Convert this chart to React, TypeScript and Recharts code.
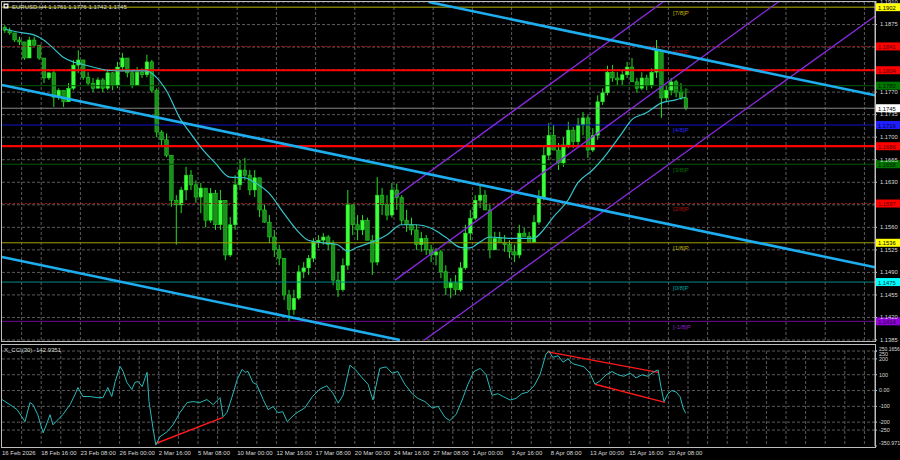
import React from 'react';
import { ComposedChart, Bar, Line, XAxis, YAxis, CartesianGrid, ReferenceLine } from 'recharts';

const FONT = '"Liberation Sans", Arial, sans-serif';
const TXT = '#d9d9d9';
const GRID = '#5a5a5a';

// x runs in candle units: one candle = two H4 bars
const X_MAX = 178.16;
const P_MIN = 1.1385;
const P_MAX = 1.191;

const opens = [
  1.1871, 1.1866, 1.1862, 1.1851, 1.1848, 1.1823, 1.1851, 1.1843, 1.1823, 1.1792,
  1.18, 1.1762, 1.1773, 1.1755, 1.1776, 1.1812, 1.182, 1.1793, 1.1784, 1.1776,
  1.1789, 1.1776, 1.18, 1.1781, 1.1809, 1.1823, 1.18, 1.1781, 1.1801, 1.1797,
  1.1817, 1.1773, 1.1708, 1.1696, 1.1672, 1.1602, 1.1595, 1.1618, 1.1641, 1.1626,
  1.1607, 1.1621, 1.1571, 1.1613, 1.1564, 1.1602, 1.1517, 1.1564, 1.1626, 1.1649,
  1.1641, 1.1618, 1.1637, 1.1587, 1.1568, 1.1545, 1.1525, 1.1512, 1.1455, 1.1432,
  1.145, 1.1491, 1.1497, 1.1512, 1.1537, 1.154, 1.1545, 1.1533, 1.1478, 1.1463,
  1.1501, 1.1595, 1.1564, 1.1556, 1.1571, 1.154, 1.1506, 1.161, 1.1595, 1.1579,
  1.1618, 1.1606, 1.1571, 1.1564, 1.1556, 1.1533, 1.1543, 1.1525, 1.1517, 1.1522,
  1.1491, 1.1466, 1.1474, 1.1463, 1.1497, 1.1551, 1.1574, 1.1602, 1.161, 1.1587,
  1.1525, 1.1543, 1.1536, 1.1533, 1.1522, 1.1517, 1.1551, 1.1546, 1.1537, 1.1568,
  1.1606, 1.1672, 1.1703, 1.168, 1.166, 1.1688, 1.1711, 1.1693, 1.1719, 1.173,
  1.168, 1.1703, 1.1755, 1.1769, 1.1801, 1.1792, 1.1789, 1.1797, 1.1809, 1.1786,
  1.1776, 1.1792, 1.1781, 1.1801, 1.1835, 1.1761, 1.1773, 1.1786, 1.177, 1.1761,
];
const highs = [
  1.1874, 1.187, 1.1862, 1.1856, 1.1848, 1.1856, 1.1856, 1.1843, 1.1823, 1.1801,
  1.1804, 1.1776, 1.1773, 1.1784, 1.182, 1.1835, 1.182, 1.1801, 1.1792, 1.1793,
  1.1792, 1.1804, 1.1801, 1.1817, 1.1831, 1.1823, 1.1804, 1.1809, 1.1807, 1.1828,
  1.182, 1.1776, 1.1711, 1.1706, 1.1672, 1.161, 1.1623, 1.1654, 1.1649, 1.1633,
  1.1629, 1.1621, 1.1621, 1.1618, 1.1618, 1.1602, 1.1576, 1.1641, 1.1665, 1.1668,
  1.1649, 1.1649, 1.1637, 1.1595, 1.1579, 1.1556, 1.1533, 1.1512, 1.1463, 1.1463,
  1.1501, 1.1506, 1.1517, 1.1543, 1.1548, 1.1551, 1.1548, 1.154, 1.1491, 1.1512,
  1.1618, 1.1595, 1.1579, 1.1579, 1.1575, 1.1548, 1.1638, 1.1621, 1.161, 1.1629,
  1.1628, 1.161, 1.1587, 1.1575, 1.1564, 1.1553, 1.1548, 1.1533, 1.1528, 1.1525,
  1.1501, 1.1481, 1.1486, 1.1506, 1.1564, 1.1587, 1.161, 1.1626, 1.1618, 1.1595,
  1.1553, 1.1553, 1.1548, 1.154, 1.1533, 1.1564, 1.1559, 1.1553, 1.1579, 1.1618,
  1.1688, 1.1722, 1.1719, 1.1691, 1.17, 1.1724, 1.1716, 1.173, 1.1739, 1.1734,
  1.1714, 1.1765, 1.1776, 1.1811, 1.1812, 1.1801, 1.1804, 1.1817, 1.1823, 1.1792,
  1.1801, 1.1797, 1.1807, 1.1851, 1.1835, 1.1781, 1.1792, 1.1789, 1.1784, 1.1776,
];
const lows = [
  1.1862, 1.1859, 1.1848, 1.1843, 1.182, 1.1823, 1.184, 1.182, 1.1784, 1.1789,
  1.1747, 1.1758, 1.1747, 1.1755, 1.1773, 1.18, 1.1789, 1.1781, 1.177, 1.1776,
  1.177, 1.1773, 1.1773, 1.1776, 1.1804, 1.1793, 1.1776, 1.1781, 1.1792, 1.1793,
  1.1769, 1.17, 1.1685, 1.1669, 1.1592, 1.1533, 1.1582, 1.1602, 1.1618, 1.1598,
  1.1582, 1.156, 1.1567, 1.1556, 1.1556, 1.1509, 1.1514, 1.1556, 1.1618, 1.1633,
  1.161, 1.1607, 1.1576, 1.1567, 1.1536, 1.1514, 1.1501, 1.1447, 1.1413, 1.1424,
  1.1447, 1.1481, 1.1486, 1.1506, 1.1528, 1.1533, 1.1525, 1.147, 1.1452, 1.146,
  1.1494, 1.1548, 1.154, 1.1548, 1.154, 1.1486, 1.1501, 1.1579, 1.1571, 1.1575,
  1.1587, 1.1564, 1.1553, 1.1548, 1.1525, 1.1522, 1.1517, 1.1506, 1.1501, 1.1481,
  1.1455, 1.145, 1.1455, 1.146, 1.1494, 1.154, 1.1571, 1.159, 1.1587, 1.1512,
  1.1525, 1.1536, 1.1522, 1.1512, 1.1506, 1.1512, 1.1546, 1.1537, 1.1537, 1.1564,
  1.1602, 1.1665, 1.168, 1.1649, 1.1654, 1.1683, 1.1683, 1.1688, 1.1703, 1.1668,
  1.1677, 1.1696, 1.175, 1.1765, 1.1786, 1.1781, 1.1781, 1.1792, 1.1786, 1.1769,
  1.1773, 1.1773, 1.1776, 1.1792, 1.173, 1.1755, 1.1765, 1.1762, 1.1758, 1.1742,
];
const closes = [
  1.1866, 1.1862, 1.1851, 1.1848, 1.1823, 1.1851, 1.1843, 1.1823, 1.1792, 1.18,
  1.1762, 1.1773, 1.1755, 1.1776, 1.1812, 1.182, 1.1793, 1.1784, 1.1776, 1.1789,
  1.1776, 1.18, 1.1781, 1.1809, 1.1823, 1.18, 1.1781, 1.1801, 1.1797, 1.1817,
  1.1773, 1.1708, 1.1696, 1.1672, 1.1602, 1.1595, 1.1618, 1.1641, 1.1626, 1.1607,
  1.1621, 1.1571, 1.1613, 1.1564, 1.1602, 1.1517, 1.1564, 1.1626, 1.1649, 1.1641,
  1.1618, 1.1637, 1.1587, 1.1568, 1.1545, 1.1525, 1.1512, 1.1455, 1.1432, 1.145,
  1.1491, 1.1497, 1.1512, 1.1537, 1.154, 1.1545, 1.1533, 1.1478, 1.1463, 1.1501,
  1.1595, 1.1564, 1.1556, 1.1571, 1.154, 1.1506, 1.161, 1.1595, 1.1579, 1.1618,
  1.1606, 1.1571, 1.1564, 1.1556, 1.1533, 1.1543, 1.1525, 1.1517, 1.1522, 1.1491,
  1.1466, 1.1474, 1.1463, 1.1497, 1.1551, 1.1574, 1.1602, 1.161, 1.1587, 1.1525,
  1.1543, 1.1536, 1.1533, 1.1522, 1.1517, 1.1551, 1.1546, 1.1537, 1.1568, 1.1606,
  1.1672, 1.1703, 1.168, 1.166, 1.1688, 1.1711, 1.1693, 1.1719, 1.173, 1.168,
  1.1703, 1.1755, 1.1769, 1.1801, 1.1792, 1.1789, 1.1797, 1.1809, 1.1786, 1.1776,
  1.1792, 1.1781, 1.1801, 1.1835, 1.1761, 1.1773, 1.1786, 1.177, 1.1761, 1.1745,
];

// moving average, read at some candles only
const maIdx = [
  0, 3, 6, 8, 10, 12, 14, 15, 18, 21, 24, 26, 29, 31, 33, 36, 38, 40, 43, 46,
  49, 51, 54, 57, 60, 62, 65, 68, 70, 72, 75, 78, 81, 84, 87, 90, 93, 95, 97, 99,
  103, 108, 110, 112, 115, 117, 120, 123, 126, 128, 131, 134, 137, 139,
];
const maVal = [
  1.1868, 1.1863, 1.1859, 1.1851, 1.1838, 1.1824, 1.1817, 1.1815, 1.1809, 1.1804,
  1.1803, 1.1803, 1.1803, 1.1793, 1.1773, 1.1727, 1.1706, 1.1685, 1.166, 1.1638,
  1.1637, 1.163, 1.1613, 1.1582, 1.1553, 1.154, 1.1536, 1.1533, 1.1523, 1.1529,
  1.1537, 1.1548, 1.1564, 1.1564, 1.1559, 1.1545, 1.1529, 1.1528, 1.1537, 1.1545,
  1.1543, 1.1543, 1.1556, 1.1576, 1.1602, 1.1629, 1.1649, 1.1675, 1.1706, 1.1727,
  1.1738, 1.1753, 1.1758, 1.1762,
];

const cciPos = [
  0, 1.6, 3.1, 4.7, 5.7, 6.3, 7.3, 8.4, 9.2, 9.8, 10.4, 11.4, 12.4, 13.9, 14.9, 15.5,
  16.5, 18, 19.4, 20.6, 21.6, 22.4, 23.1, 24.1, 24.7, 25.5, 26.5, 27.1, 27.8, 28.6,
  29.6, 30, 30.8, 31.4, 32.2, 33.7, 34.9, 36.3, 37.8, 39, 40.4, 41.8, 43.1, 44.5,
  45.1, 45.9, 46.9, 48, 49, 49.6, 50.2, 51.2, 52, 53.3, 54.3, 55.3, 56.3, 57.3, 58.2,
  59.2, 60.2, 61.8, 63.3, 64.9, 66.3, 67.6, 68.6, 69.6, 71, 72.2, 73.5, 74.7, 75.7,
  77.1, 78.4, 79.6, 80.8, 82.2, 83.7, 84.9, 86.3, 87.8, 89, 90.4, 91.4, 92.7, 93.9,
  95.1, 96.3, 97.6, 98.8, 100, 101.2, 102.4, 103.7, 104.9, 106.1, 107.3, 108.6,
  109.8, 111, 111.6, 112.4, 113.5, 114.5, 115.5, 116.5, 117.6, 118.8, 120, 121, 122,
  123.3, 124.5, 125.7, 126.9, 128.2, 129.4, 130.6, 131.8, 133.1, 133.9, 134.5, 135.1,
  135.9, 136.7, 137.6, 138.4, 139, 139.5,
];
const cciVal = [
  -57, -89, -121, -197, -76, -89, -153, -268, -204, -153, -217, -185, -153, -89, -25, 19,
  -38, -38, -45, -45, 19, -38, 57, 153, 121, 51, 6, 51, 57, 25,
  115, -70, -236, -345, -293, -261, -217, -140, -76, -70, -76, -57, -89, -45,
  -166, -140, -45, 70, 134, 115, 121, 51, 38, -57, -121, -102, -140, -134, -197,
  -166, -140, -110, -40, 10, 30, -20, -80, -30, 160, 130, 80, 40, -60,
  140, 150, 110, 120, 40, -20, -50, -70, -110, -100, -170, -190, -150, -60,
  40, 120, 140, 100, -30, -20, -40, -60, -50, -20, -10, 30,
  100, 230, 250, 210, 220, 180, 200, 170, 160, 150, 110, 40, 60,
  100, 120, 100, 90, 110, 80, 100, 90, 120, 130, 20, -70,
  -20, 0, -10, -40, -110, -143,
];

const dateTicks = [0, 8, 16, 24, 32, 40, 48, 56, 64, 72, 80, 88, 96, 104, 112, 120, 128, 136];
const dateLabels = [
  '16 Feb 2026', '18 Feb 16:00', '23 Feb 08:00', '26 Feb 00:00', '2 Mar 16:00', '5 Mar 08:00',
  '10 Mar 00:00', '12 Mar 16:00', '17 Mar 08:00', '20 Mar 00:00', '24 Mar 16:00', '27 Mar 08:00',
  '1 Apr 00:00', '3 Apr 16:00', '8 Apr 08:00', '13 Apr 00:00', '15 Apr 16:00', '20 Apr 08:00',
];
const gridX = Array.from({ length: 44 }, (_, k) => 4 * (k + 1));

const priceGrid = [
  1.191, 1.1875, 1.184, 1.1805, 1.177, 1.1735, 1.17, 1.1665, 1.163, 1.1595,
  1.156, 1.1525, 1.149, 1.1455, 1.142, 1.1385,
];
const priceLabels = [
  1.191, 1.1875, 1.177, 1.1735, 1.17, 1.1665, 1.163, 1.156, 1.1525, 1.149, 1.1455, 1.142, 1.1385,
];

const levelPrices = [1.1902, 1.1841, 1.1804, 1.178, 1.1745, 1.1719, 1.1686, 1.1658, 1.1597, 1.1536, 1.1475, 1.1414];
const levelTags = ['1.1902', '1.1841', '1.1804', '1.1780', '1.1745', '1.1719', '1.1686', '1.1658', '1.1597', '1.1536', '1.1475', '1.1414'];
const levelMurray = ['[7/8]P', '[6/8]P', '', '[5/8]P', '', '[4/8]P', '', '[3/8]P', '[2/8]P', '[1/8]P', '[0/8]P', '[-1/8]P'];

const levelStyle = [
  { line: '#b8b800', w: 1, dash: undefined, box: '#ffff00', txt: '#000', tag: '#c8b400' },
  { line: '#a80e0e', w: 1, dash: '2 2', box: '#ff0000', txt: '#500', tag: '#b01010' },
  { line: '#ff0000', w: 2.2, dash: undefined, box: '#ff0000', txt: '#500', tag: '#ff0000' },
  { line: '#005c00', w: 1, dash: undefined, box: '#007800', txt: '#001800', tag: '#007000' },
  { line: '#858585', w: 1, dash: undefined, box: '#ffffff', txt: '#000', tag: '#888' },
  { line: '#1414c8', w: 1, dash: undefined, box: '#1e1eff', txt: '#000030', tag: '#2828ff' },
  { line: '#ff0000', w: 2.2, dash: undefined, box: '#ff0000', txt: '#500', tag: '#ff0000' },
  { line: '#005c00', w: 1, dash: undefined, box: '#007800', txt: '#001800', tag: '#007000' },
  { line: '#a80e0e', w: 1, dash: '2 2', box: '#ff0000', txt: '#500', tag: '#b01010' },
  { line: '#a0a000', w: 1, dash: undefined, box: '#ffff00', txt: '#000', tag: '#c0b000' },
  { line: '#008a8a', w: 1, dash: undefined, box: '#00ffff', txt: '#003030', tag: '#00a0a0' },
  { line: '#6a0a96', w: 1, dash: undefined, box: '#9000d8', txt: '#200030', tag: '#9020d0' },
];

// trend lines as [x1, price1, x2, price2]
const blueLines = [
  [87.1, 1.191, 178.16, 1.1765],
  [0, 1.1781, 178.16, 1.1498],
  [0, 1.1514, 81.2, 1.1385],
];
const purpleLines = [
  [80.2, 1.1607, 134.9, 1.191],
  [80.2, 1.1478, 158.4, 1.191],
  [86.2, 1.1385, 178.16, 1.1888],
];
const cciRedLines = [
  [31.4, -335, 45.1, -170],
  [111.4, 245, 133.9, 115],
  [121.0, 40, 135.3, -75],
];

const CCI_MAX = 250.1656;
const CCI_MIN = -350.971;
const cciTicks = [250.1656, 250, 200, 100, 0, -100, -200, -250, -350.971];
const cciTickText = ['250.1656', '250', '200', '100', '0.00', '-100', '-200', '-250', '-350.971'];
const cciGrid = [250, 200, 100, 0, -100, -200, -250];

const maByIdx = new Map(maIdx.map((k, j) => [k, maVal[j]]));
const candles = opens.map((o, i) => ({
  u: i + 0.5,
  o,
  h: highs[i],
  l: lows[i],
  c: closes[i],
  range: [lows[i], highs[i]],
  ma: maByIdx.has(i) ? maByIdx.get(i) : null,
}));
const cciRows = cciPos.map((u, j) => ({ u, v: cciVal[j] }));

function Candle(props: any) {
  const { x, y, width, height, payload } = props;
  if (!payload || height == null) return null;
  const { o, c, h, l } = payload;
  const k = h > l ? height / (h - l) : 0;
  const cx = x + width / 2;
  const top = y + (h - Math.max(o, c)) * k;
  const bot = y + (h - Math.min(o, c)) * k;
  const up = c >= o;
  return (
    <g>
      <line x1={cx} x2={cx} y1={y} y2={y + height} stroke="#20e020" strokeWidth={1} />
      <rect
        x={x}
        y={top}
        width={width}
        height={Math.max(1, bot - top)}
        fill={up ? '#3cff3c' : '#1b8f1b'}
        stroke="#22d822"
        strokeWidth={0.5}
      />
    </g>
  );
}

function PriceTick({ x, y, payload }: any) {
  return (
    <text x={x + 1} y={y + 1.8} fontSize={5.8} fill={TXT} fontFamily={FONT}>
      {Number(payload.value).toFixed(4)}
    </text>
  );
}

function CciTick({ x, y, payload }: any) {
  const j = cciTicks.indexOf(payload.value);
  let dy = 1.8;
  let fs = 5.4;
  if (payload.value === CCI_MAX) {
    dy = -0.5;
    fs = 5;
  }
  if (payload.value === 250) dy = 4.5;
  if (payload.value === CCI_MIN) dy = -1.5;
  return (
    <text x={x} y={y + dy} fontSize={fs} fill={TXT} fontFamily={FONT}>
      {j >= 0 ? cciTickText[j] : payload.value}
    </text>
  );
}

function DateTick({ x, y, payload }: any) {
  const j = dateTicks.indexOf(payload.value);
  return (
    <text x={x} y={y + 7} fontSize={6} fill={TXT} fontFamily={FONT}>
      {dateLabels[j]}
    </text>
  );
}

function LevelTag(props: any) {
  const { viewBox, tag, murray, st } = props;
  if (!viewBox) return null;
  const y = viewBox.y;
  const right = viewBox.x + viewBox.width;
  return (
    <g>
      {murray ? (
        <text x={viewBox.x + viewBox.width * 0.7686} y={y + 7.5} fontSize={6} fill={st.tag} fontFamily={FONT}>
          {murray}
        </text>
      ) : null}
      <rect x={right + 1} y={y - 4} width={24} height={8} fill={st.box} />
      <text x={right + 3} y={y + 2.6} fontSize={5.8} fill={st.txt} fontFamily={FONT}>
        {tag}
      </text>
    </g>
  );
}

export default function App() {
  return (
    <div style={{ position: 'absolute', left: 0, top: 0, width: 900, height: 460, background: '#000', overflow: 'hidden' }}>
      <div style={{ position: 'absolute', left: 0, top: 0 }}>
        <ComposedChart width={900} height={343} data={candles} margin={{ top: 2, right: 0, bottom: 3, left: 2 }}>
          <CartesianGrid stroke={GRID} strokeDasharray="3 2" horizontalValues={priceGrid} verticalValues={gridX} />
          <XAxis type="number" dataKey="u" domain={[0, X_MAX]} hide allowDataOverflow />
          <YAxis
            orientation="right"
            width={25}
            type="number"
            domain={[P_MIN, P_MAX]}
            ticks={priceLabels}
            interval={0}
            allowDataOverflow
            tick={<PriceTick />}
            tickSize={2}
            tickLine={{ stroke: '#bdbdbd' }}
            axisLine={{ stroke: '#bdbdbd' }}
          />
          {levelPrices.map((p, i) => (
            <ReferenceLine
              key={'lv' + i}
              y={p}
              stroke={levelStyle[i].line}
              strokeWidth={levelStyle[i].w}
              strokeDasharray={levelStyle[i].dash}
              label={<LevelTag tag={levelTags[i]} murray={levelMurray[i]} st={levelStyle[i]} />}
            />
          ))}
          {purpleLines.map((s, i) => (
            <ReferenceLine
              key={'pl' + i}
              segment={[{ x: s[0], y: s[1] }, { x: s[2], y: s[3] }]}
              stroke="#8a2be2"
              strokeWidth={1.3}
            />
          ))}
          {blueLines.map((s, i) => (
            <ReferenceLine
              key={'bl' + i}
              segment={[{ x: s[0], y: s[1] }, { x: s[2], y: s[3] }]}
              stroke="#1eaef0"
              strokeWidth={2.6}
            />
          ))}
          <Bar dataKey="range" shape={<Candle />} barSize={3.6} isAnimationActive={false} />
          <Line
            dataKey="ma"
            type="monotone"
            stroke="#35c4cc"
            strokeWidth={1.2}
            dot={false}
            connectNulls
            isAnimationActive={false}
          />
        </ComposedChart>
      </div>
      <div style={{ position: 'absolute', left: 0, top: 344 }}>
        <ComposedChart width={900} height={116} data={cciRows} margin={{ top: 7, right: 0, bottom: 0, left: 2 }}>
          <CartesianGrid stroke={GRID} strokeDasharray="3 2" horizontalValues={cciGrid} verticalValues={gridX} />
          <XAxis
            type="number"
            dataKey="u"
            domain={[0, X_MAX]}
            ticks={dateTicks}
            interval={0}
            allowDataOverflow
            height={14}
            axisLine={false}
            tickLine={false}
            tickSize={0}
            tick={<DateTick />}
          />
          <YAxis
            orientation="right"
            width={25}
            type="number"
            domain={[CCI_MIN, CCI_MAX]}
            ticks={cciTicks}
            interval={0}
            allowDataOverflow
            tick={<CciTick />}
            tickSize={2}
            tickLine={{ stroke: '#bdbdbd' }}
            axisLine={{ stroke: '#bdbdbd' }}
          />
          {cciRedLines.map((s, i) => (
            <ReferenceLine
              key={'cr' + i}
              segment={[{ x: s[0], y: s[1] }, { x: s[2], y: s[3] }]}
              stroke="#ff1a1a"
              strokeWidth={1.4}
            />
          ))}
          <Line dataKey="v" type="linear" stroke="#2ab8b8" strokeWidth={1} dot={false} isAnimationActive={false} />
        </ComposedChart>
      </div>
      <svg width={900} height={460} style={{ position: 'absolute', left: 0, top: 0, pointerEvents: 'none' }}>
        <rect x={1.5} y={1.5} width={874} height={340} fill="none" stroke="#bdbdbd" />
        <rect x={1.5} y={344.5} width={874} height={103} fill="none" stroke="#bdbdbd" />
        <rect x={3.5} y={3.5} width={5} height={5} fill="#e8e8e8" />
        <path d="M4.5 5 L7.5 5 L6 7.5 Z" fill="#000" />
        <text x={12} y={9} fontSize={6} fill={TXT} fontFamily={FONT}>
          EURUSD,H4  1.1761 1.1776 1.1742 1.1745
        </text>
        <text x={4} y={352} fontSize={6} fill={TXT} fontFamily={FONT}>
          X_CCI(30) -142.9351
        </text>
      </svg>
    </div>
  );
}
